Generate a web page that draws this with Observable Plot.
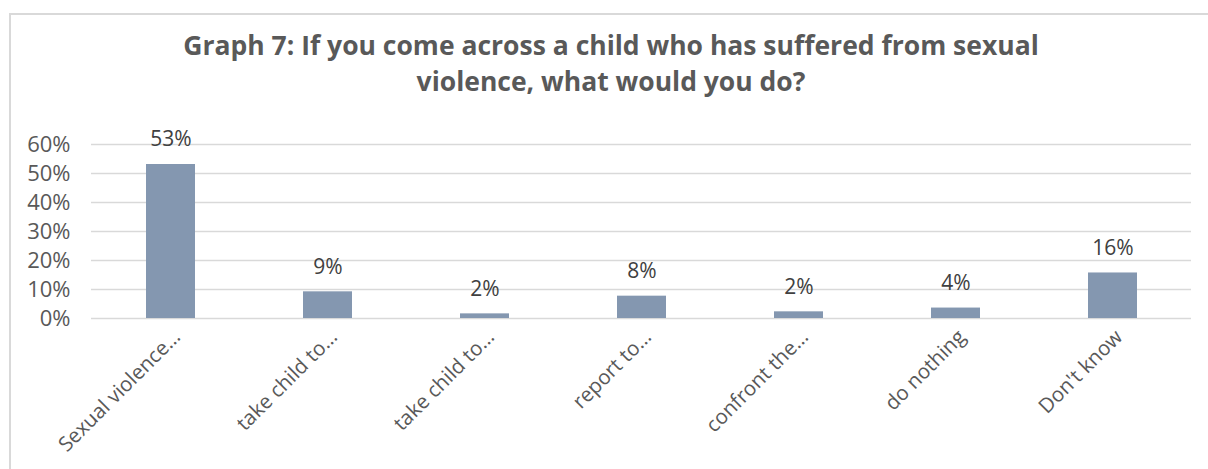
<!DOCTYPE html>
<html><head><meta charset="utf-8">
<script src="https://cdn.jsdelivr.net/npm/d3@7"></script>
<script src="https://cdn.jsdelivr.net/npm/@observablehq/plot@0.6"></script>
<style>
body{margin:0;background:#fff;font-family:"Open Sans",sans-serif;overflow:hidden;}
#frame{position:absolute;left:9px;top:13px;width:1210px;height:470px;border-left:2px solid #d9d9d9;border-top:2px solid #d9d9d9;}
#title{position:absolute;left:11px;top:27px;width:1200px;text-align:center;font-weight:700;font-size:26.5px;line-height:36px;color:#595959;}
#chart{position:absolute;left:0;top:100px;}
</style></head>
<body>
<div id="frame"></div>
<div id="title">Graph 7: If you come across a child who has suffered from sexual<br>violence, what would you do?</div>
<div id="chart"></div>
<script>
const categories = ["Sexual violence…","take child to…","take child to…","report to…","confront the…","do nothing","Don't know"];
const values = [53.1, 9.2, 1.6, 7.7, 2.3, 3.6, 15.7];
const yTicks = [0,10,20,30,40,50,60];
const data = categories.map((c,i)=>({i, label:c, value: values[i]}));

const chart = Plot.plot({
  width:1208, height:369,
  marginLeft:91, marginRight:17, marginTop:44, marginBottom:151,
  style:{fontFamily:"Open Sans", fontSize:"20px", color:"#595959", background:"transparent"},
  x:{type:"band", domain:d3.range(categories.length), paddingInner:0.688, paddingOuter:0.344, label:null, axis:null},
  y:{domain:[0,60], label:null, axis:null},
  marks:[
    Plot.ruleY(yTicks,{stroke:"#d9d9d9", strokeWidth:1.5}),
    Plot.axisY({ticks:yTicks, tickFormat:d=>d+"%", tickSize:0, tickPadding:21, fontSize:22, label:null}),
    Plot.axisX({tickFormat:i=>categories[i], tickRotate:-45, tickSize:0, tickPadding:13, dx:6, dy:2, fontSize:20.5, label:null}),
    Plot.barY(data,{x:"i", y:"value", fill:"#8497B0"}),
    Plot.text(data,{x:"i", y:"value", text:d=>Math.round(d.value)+"%", dy:-25, fill:"#404040", fontSize:21})
  ]
});
document.getElementById("chart").appendChild(chart);
</script>
</body></html>
